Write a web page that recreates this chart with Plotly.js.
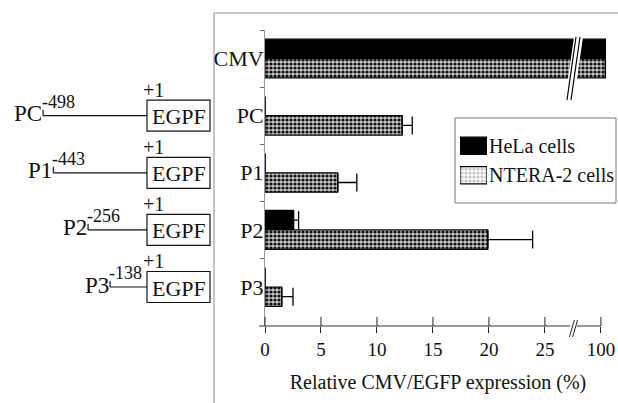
<!DOCTYPE html>
<html><head><meta charset="utf-8">
<script src="https://cdn.plot.ly/plotly-3.0.1.min.js"></script>
<style>html,body{margin:0;padding:0;background:#fff}#chart{width:618px;height:403px}</style>
</head><body><div id="chart"></div>
<script>
// ---------- data ----------
const categories = ['CMV', 'PC', 'P1', 'P2', 'P3'];
const seriesNames = ['HeLa cells', 'NTERA-2 cells'];
const helaValues = [101, 0, 0, 2.55, 0];
const helaErrors = [0, 0, 0, 0.45, 0];
const nteraValues = [101, 12.25, 6.5, 19.9, 1.5];
const nteraErrors = [0, 0.9, 1.7, 4.0, 1.0];
const tickValues = [0, 5, 10, 15, 20, 25, 100];
const tickLabels = ['0', '5', '10', '15', '20', '25', '100'];
const constructs = ['PC', 'P1', 'P2', 'P3'];
const constructStarts = [-498, -443, -256, -138];
const reporterName = 'EGPF';
const startLabel = '+1';
const axisTitle = 'Relative CMV/EGFP expression (%)';

// ---------- geometry helpers ----------
const W = 618, H = 403, L = 265, R = 7, T = 30, B = 77;
const xMax = 30.9;
const pw = W - L - R, ph = H - T - B;
const FONT = "'Liberation Serif', 'Times New Roman', serif";
function px(x) { return (x - L) / pw; }
function py(y) { return 1 - (y - T) / ph; }
// broken axis: 0..25 linear, the value 100 is drawn at 30
function brk(v) { return v <= 27 ? v : 30 + (v - 100) * 0.4; }
function dataPx(v) { return L + v * pw / xMax; }
function errOf(arr) { return arr.map(e => e > 0 ? e : null); }

const boxLeft = 147, boxRight = 210;
const breakPos = 27.55;

// ---------- traces ----------
const FILL = '#c4c4c4';
const pattern = { shape: '.', fgcolor: '#111', bgcolor: FILL, size: 4, solidity: 0.5 };
const traces = [
  {
    type: 'bar', orientation: 'h', name: seriesNames[0],
    y: categories, x: helaValues.map(brk),
    marker: { color: '#000', line: { color: '#000', width: 1.2 } },
    error_x: { type: 'data', symmetric: false, array: errOf(helaErrors), arrayminus: helaErrors.map(() => 0), color: '#000', thickness: 1.3, width: 9 },
    cliponaxis: false, showlegend: false, hoverinfo: 'skip'
  },
  {
    type: 'bar', orientation: 'h', name: seriesNames[1],
    y: categories, x: nteraValues.map(brk),
    marker: { color: FILL, pattern: pattern, line: { color: '#000', width: 1.2 } },
    error_x: { type: 'data', symmetric: false, array: errOf(nteraErrors), arrayminus: nteraErrors.map(() => 0), color: '#000', thickness: 1.3, width: 9 },
    cliponaxis: false, showlegend: false, hoverinfo: 'skip'
  },
  // legend swatches
  {
    type: 'bar', orientation: 'h', xaxis: 'x3', yaxis: 'y3',
    y: seriesNames, x: [1, 1], width: 0.58,
    marker: {
      color: ['#000', FILL],
      pattern: { shape: ['', '.'], fgcolor: '#111', bgcolor: ['#000', FILL], size: 4, solidity: 0.5 },
      line: { color: '#000', width: 1.2 }
    },
    showlegend: false, hoverinfo: 'skip'
  }
];

// ---------- shapes & annotations ----------
const shapes = [];
const annotations = [];

// outer frame (grey)
shapes.push({ type: 'line', xref: 'paper', yref: 'paper', x0: px(214), x1: px(214), y0: py(13), y1: py(403), line: { color: '#8a8a8a', width: 1 } });
shapes.push({ type: 'line', xref: 'paper', yref: 'paper', x0: px(214), x1: px(618), y0: py(13), y1: py(13), line: { color: '#8a8a8a', width: 1 } });

// x axis line with break
shapes.push({ type: 'line', xref: 'paper', yref: 'paper', x0: px(259), x1: px(dataPx(breakPos - 0.3)), y0: 0, y1: 0, line: { color: '#333', width: 1 } });
shapes.push({ type: 'line', xref: 'paper', yref: 'paper', x0: px(dataPx(breakPos + 0.3)), x1: px(dataPx(brk(100))), y0: 0, y1: 0, line: { color: '#333', width: 1 } });
// upward tick parts
tickValues.forEach(v => {
  const xp = px(dataPx(brk(v)));
  shapes.push({ type: 'line', xref: 'paper', yref: 'paper', x0: xp, x1: xp, y0: 0, y1: py(317), line: { color: '#222', width: 1 } });
});
// axis break slashes
[-1.6, 1.6].forEach(d => {
  const c = dataPx(breakPos) + d;
  shapes.push({ type: 'line', xref: 'paper', yref: 'paper', x0: px(c - 2.5), x1: px(c + 2.5), y0: py(337), y1: py(320), line: { color: '#222', width: 1 } });
});
// break on the CMV bars
{
  const c = dataPx(breakPos);
  const yTop = 37, yBot = 100, slope = 9 / 63;
  const xt = c + (68.5 - yTop) * slope, xb = c - (yBot - 68.5) * slope;
  const pathPts = [[xb - 4, yBot], [xt - 4, yTop], [xt + 5, yTop], [xb + 5, yBot]];
  shapes.push({
    type: 'path', xref: 'paper', yref: 'paper',
    path: 'M' + pathPts.map(p => px(p[0]) + ',' + py(p[1])).join('L') + 'Z',
    fillcolor: '#fff', line: { width: 0 }, layer: 'above'
  });
  [-2, 2].forEach(d => {
    shapes.push({ type: 'line', xref: 'paper', yref: 'paper', x0: px(xb + d), x1: px(xt + d), y0: py(yBot), y1: py(yTop), line: { color: '#000', width: 1.2 } });
  });
}

// left promoter diagrams
constructs.forEach((name, i) => {
  const idx = categories.indexOf(name);
  const start = boxLeft - (Math.abs(constructStarts[i]) * 0.186 + 11.3);
  shapes.push({ type: 'line', xref: 'paper', yref: 'y', x0: px(start), x1: px(boxLeft), y0: idx, y1: idx, line: { color: '#111', width: 1.2 } });
  shapes.push({ type: 'line', xref: 'paper', yref: 'y', ysizemode: 'pixel', yanchor: idx, x0: px(start), x1: px(start), y0: 0, y1: 6, line: { color: '#111', width: 1.2 } });
  shapes.push({ type: 'rect', xref: 'paper', yref: 'y', ysizemode: 'pixel', yanchor: idx, x0: px(boxLeft), x1: px(boxRight), y0: -15.5, y1: 15.5, line: { color: '#111', width: 1.2 }, fillcolor: 'rgba(0,0,0,0)' });
  annotations.push({ xref: 'paper', yref: 'y', x: px((boxLeft + boxRight) / 2), y: idx, yshift: -1, text: reporterName, showarrow: false, xanchor: 'center', yanchor: 'middle', font: { family: FONT, size: 22, color: '#111' } });
  annotations.push({ xref: 'paper', yref: 'y', x: px(boxLeft - 6), y: idx, yshift: 26, text: startLabel, showarrow: false, xanchor: 'left', yanchor: 'middle', font: { family: FONT, size: 20, color: '#111' } });
  annotations.push({ xref: 'paper', yref: 'y', x: px(start + 1), y: idx, yshift: 2, text: name, showarrow: false, xanchor: 'right', yanchor: 'middle', font: { family: FONT, size: 23, color: '#111' } });
  annotations.push({ xref: 'paper', yref: 'y', x: px(start - 3), y: idx, yshift: 14, text: String(constructStarts[i]), showarrow: false, xanchor: 'left', yanchor: 'middle', font: { family: FONT, size: 18, color: '#111' } });
});

// legend box + texts
shapes.push({ type: 'rect', xref: 'paper', yref: 'paper', x0: px(455), x1: px(616), y0: py(118), y1: py(203), line: { color: '#777', width: 1 }, fillcolor: '#fff', layer: 'below' });
seriesNames.forEach(n => {
  annotations.push({ xref: 'paper', yref: 'y3', x: px(487), y: n, text: n, showarrow: false, xanchor: 'left', yanchor: 'middle', font: { family: FONT, size: 20, color: '#111' } });
});

const layout = {
  width: W, height: H,
  margin: { l: L, r: R, t: T, b: B, pad: 0 },
  paper_bgcolor: '#fff', plot_bgcolor: 'rgba(0,0,0,0)',
  barmode: 'group', bargap: 0.32, bargroupgap: 0,
  showlegend: false,
  font: { family: FONT, color: '#111' },
  xaxis: {
    range: [0, xMax], showgrid: false, zeroline: false, showline: false,
    tickmode: 'array', tickvals: tickValues.map(brk), ticktext: tickLabels,
    ticks: 'outside', ticklen: 6, tickcolor: '#222', tickwidth: 1,
    tickfont: { family: FONT, size: 19, color: '#111' },
    title: { text: axisTitle, font: { family: FONT, size: 20, color: '#111' }, standoff: 16 },
    fixedrange: true
  },
  yaxis: {
    type: 'category', categoryorder: 'array', categoryarray: categories,
    autorange: 'reversed', showgrid: false, zeroline: false,
    showline: true, linecolor: '#9a9a9a', linewidth: 1, layer: 'below traces',
    tickson: 'boundaries', ticks: 'outside', ticklen: 4, tickcolor: '#666',
    tickfont: { family: FONT, size: 22, color: '#111' },
    ticklabelstandoff: -4,
    fixedrange: true
  },
  xaxis3: { domain: [px(460), px(487)], anchor: 'y3', range: [0, 1], visible: false, fixedrange: true },
  yaxis3: { domain: [py(190), py(131)], anchor: 'x3', type: 'category', autorange: 'reversed', visible: false, fixedrange: true },
  shapes: shapes,
  annotations: annotations
};

Plotly.newPlot('chart', traces, layout, { displayModeBar: false, staticPlot: true });
</script>
</body></html>
